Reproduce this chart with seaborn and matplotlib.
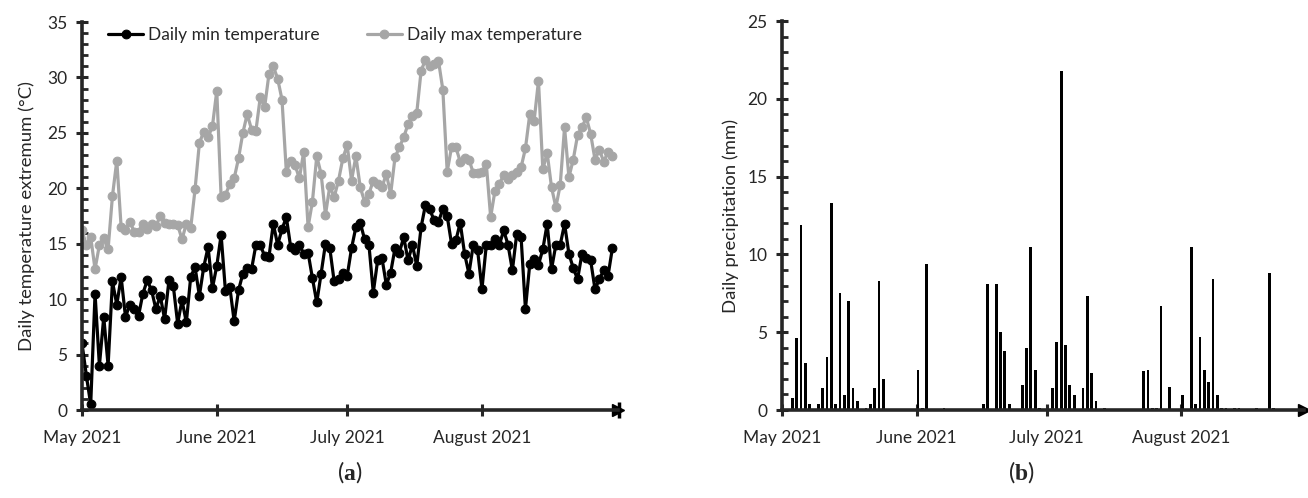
import numpy as np
import pandas as pd
import matplotlib
matplotlib.use("Agg")
import matplotlib.pyplot as plt
from matplotlib.ticker import MultipleLocator
import seaborn as sns

# season: 1 May 2021 .. 31 Aug 2021, one value per day
season_start = "2021-05-01"
season_end = "2021-08-31"

t_min = [6.0, 3.1, 0.5, 10.5, 4.0, 8.4, 4.0, 11.6, 9.5, 12.0, 8.4, 9.5, 9.1, 8.5, 10.5, 11.7,
         10.8, 9.1, 10.3, 8.2, 11.7, 11.2, 7.8, 9.9, 7.9, 12.0, 12.9, 10.3, 12.9, 14.7, 11.0,
         13.0, 15.8, 10.7, 11.1, 8.0, 10.8, 12.3, 12.8, 12.7, 14.9, 14.9, 13.9, 13.8, 16.8, 14.9,
         16.3, 17.4, 14.7, 14.4, 14.9, 14.1, 14.2, 11.9, 9.7, 12.3, 15.0, 14.6, 11.6, 11.8, 12.4,
         12.1, 14.6, 16.5, 16.9, 15.4, 14.9, 10.6, 13.5, 13.7, 11.3, 12.4, 14.6, 14.2, 15.6, 13.5,
         14.9, 13.0, 16.5, 18.5, 18.1, 17.1, 17.0, 18.1, 17.5, 15.0, 15.3, 16.9, 14.1, 12.3, 14.9,
         14.4, 10.9, 14.9, 14.9, 15.4, 14.9, 16.2, 14.9, 12.6, 15.9, 15.6, 9.1, 13.2, 13.6, 13.1,
         14.5, 16.8, 12.7, 14.9, 14.9, 16.8, 14.1, 12.8, 11.8, 14.1, 13.7, 13.5, 10.9, 11.8, 12.6,
         12.1, 14.6]

t_max = [16.2, 14.9, 15.6, 12.7, 14.9, 15.5, 14.5, 19.3, 22.5, 16.5, 16.2, 17.0, 16.1, 16.1, 16.8,
         16.3, 16.8, 16.6, 17.5, 16.9, 16.8, 16.8, 16.7, 15.4, 16.8, 16.4, 19.9, 24.1, 25.1,
         24.6, 25.6, 28.8, 19.2, 19.4, 20.4, 20.9, 22.7, 25.0, 26.7, 25.3, 25.2, 28.2, 27.3, 30.3,
         31.0, 29.9, 28.0, 21.5, 22.5, 22.1, 20.9, 23.3, 16.5, 18.8, 22.9, 21.3, 17.6, 20.2, 19.2,
         20.7, 22.7, 23.9, 20.7, 22.9, 20.1, 18.8, 19.5, 20.7, 20.4, 20.1, 21.3, 19.5, 22.8, 23.7,
         24.6, 25.8, 26.5, 26.8, 30.6, 31.6, 31.0, 31.2, 31.5, 28.9, 21.5, 23.7, 23.7, 22.4, 22.7,
         22.6, 21.4, 21.4, 21.5, 22.2, 17.4, 19.8, 20.4, 21.2, 20.8, 21.2, 21.5, 21.9, 23.6, 26.7,
         26.1, 29.7, 21.7, 23.2, 20.1, 18.3, 20.3, 25.5, 21.0, 22.6, 24.8, 25.5, 26.4, 24.9, 22.6,
         23.5, 22.4, 23.3, 22.9]

# rainy days (days after 1 May) and amounts
rain_day = [2, 3, 4, 5, 6, 8, 9, 10, 11, 12, 13, 14, 15, 16, 17, 19, 20, 21, 22, 23, 31, 32, 33,
            37, 46, 47, 49, 50, 51, 52, 55, 56, 57, 58, 59, 62, 63, 64, 65, 66, 67, 69, 70, 71, 72,
            74, 83, 84, 85, 86, 87, 89, 92, 94, 95, 96, 97, 98, 99, 100, 101, 102, 104, 105, 109,
            112, 113]
rain_mm = [0.8, 4.6, 11.9, 3.0, 0.4, 0.4, 1.4, 3.4, 13.3, 0.4, 7.5, 0.95, 7.0, 1.4, 0.55, 0.15,
           0.4, 1.4, 8.3, 2.0, 2.6, 0.1, 9.4, 0.15, 0.4, 8.1, 8.1, 5.0, 3.8, 0.4, 1.6, 4.0, 10.5,
           2.6, 0.15, 1.4, 4.35, 21.8, 4.2, 1.6, 0.95, 1.4, 7.3, 2.35, 0.55, 0.15, 2.5, 2.6, 0.15,
           0.15, 6.7, 1.45, 0.95, 10.5, 0.4, 4.7, 2.6, 1.8, 8.4, 0.95, 0.15, 0.15, 0.15, 0.15,
           0.15, 8.8, 0.15]

month_labels = ["May 2021", "June 2021", "July 2021", "August 2021"]

sns.set_style("ticks")
plt.rcParams["font.family"] = ["Lato", "DejaVu Sans"]
plt.rcParams["mathtext.fontset"] = "custom"
plt.rcParams["mathtext.rm"] = "Liberation Serif"
plt.rcParams["mathtext.bf"] = "Liberation Serif:bold"

dates = pd.date_range(season_start, season_end, freq="D")
day = (dates - dates[0]).days
month_pos = (pd.date_range(season_start, periods=4, freq="MS") - dates[0]).days

df = pd.DataFrame({"day": day, "tmin": t_min, "tmax": t_max})
rain = pd.DataFrame({"x": np.array(rain_day) + 0.35, "mm": rain_mm})

fig = plt.figure(figsize=(13.08, 4.98), dpi=100)
ax1 = fig.add_axes([0.0627, 0.1767, 0.4098, 0.779])
ax2 = fig.add_axes([0.5979, 0.1767, 0.3990, 0.781])

sns.lineplot(data=df, x="day", y="tmin", ax=ax1, color="black", lw=2.3, marker="o",
             markersize=6.3, markeredgecolor="black", label="Daily min temperature")
sns.lineplot(data=df, x="day", y="tmax", ax=ax1, color="#a6a6a6", lw=2.3, marker="o",
             markersize=6.3, markeredgecolor="#a6a6a6", label="Daily max temperature")

sns.barplot(data=rain, x="x", y="mm", ax=ax2, native_scale=True, width=0.65,
            color="black", linewidth=0, errorbar=None)

for ax, top, xmax in [(ax1, 35, 123.3), (ax2, 25, 120.3)]:
    ax.set_xlim(0, xmax)
    ax.set_ylim(0, top)
    sns.despine(ax=ax)
    for s in ["left", "bottom"]:
        ax.spines[s].set_linewidth(2.6)
    ax.set_xticks(month_pos)
    ax.set_xticklabels(month_labels)
    ax.yaxis.set_major_locator(MultipleLocator(5))
    ax.yaxis.set_minor_locator(MultipleLocator(1))
    ax.tick_params(axis="both", which="major", labelsize=12.5, direction="inout",
                   length=9, width=2.2, pad=6)
    ax.tick_params(axis="y", which="minor", direction="in", length=4, width=2)
    ax.tick_params(axis="x", pad=10)
    ax.set_xlabel("")
    ax.plot([1], [0], marker=">", markersize=9, color="black",
            transform=ax.transAxes, clip_on=False)

ax1.plot([1.002], [0], marker="|", markersize=12, mew=2.5, color="black",
         transform=ax1.transAxes, clip_on=False)

ax1.set_ylabel("Daily temperature extremum (°C)", fontsize=13.3, labelpad=9)
ax2.set_ylabel("Daily precipitation (mm)", fontsize=13.3, labelpad=6)

ax1.legend(loc="upper left", bbox_to_anchor=(0.02, 1.028), ncol=2, frameon=False,
           fontsize=12.5, handlelength=2.0, columnspacing=2.7, handletextpad=0.3)

fig.text(0.267, 0.052, r"($\mathbf{a}$)", fontsize=17, ha="center", va="center")
fig.text(0.781, 0.052, r"($\mathbf{b}$)", fontsize=17, ha="center", va="center")

fig.savefig("out.png", dpi=100)
